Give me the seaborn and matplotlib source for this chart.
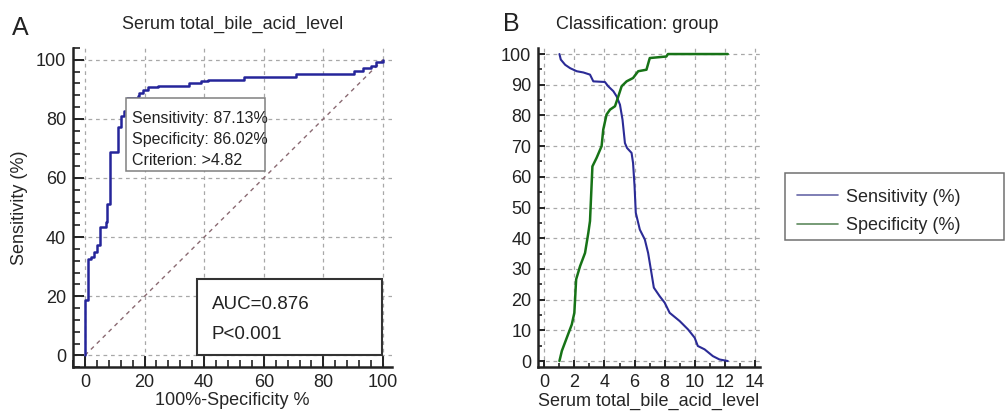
import numpy as np
import pandas as pd
import matplotlib.pyplot as plt
import seaborn as sns
from matplotlib.lines import Line2D
from matplotlib.patches import Rectangle
from matplotlib.ticker import MultipleLocator

# ROC curve (panel A), step vertices: 100%-specificity vs sensitivity
roc_fpr = [0, 0, 0.9, 2.0, 3.1, 3.9, 5.1, 7.0, 7.4, 8.5, 11.0, 11.2, 12.1, 13.0, 14.0,
           17.7, 18.2, 19.4, 21.0, 24.4, 35.0, 38.9, 41.2, 53.5, 70.8, 90.4, 93.2,
           96.0, 97.7, 100]
roc_tpr = [0, 18.6, 32.7, 33.2, 34.9, 37.2, 43.4, 45.0, 51.2, 68.7, 69.8, 77.1, 81.1,
           82.8, 87.1, 87.8, 88.6, 89.8, 90.7, 91.2, 92.0, 92.7, 93.2, 94.3, 95.2,
           96.3, 97.1, 98.0, 99.1, 100]

# Panel B: sensitivity / specificity vs criterion value
sens_x = [1.01, 1.1, 1.39, 1.72, 2.16, 2.6, 3.04, 3.26, 4.03, 4.25, 4.59, 4.81, 5.03,
          5.2, 5.36, 5.5, 5.8, 5.9, 6.0, 6.08, 6.35, 6.68, 6.9, 7.12, 7.28, 7.67, 8.0,
          8.33, 9.0, 9.55, 9.99, 10.2, 10.65, 11.2, 11.64, 12.19]
sens_y = [100, 98.2, 96.5, 95.4, 94.4, 94.0, 93.3, 91.1, 90.9, 89.5, 87.9, 86.2, 83.5,
          78.6, 71.0, 69.4, 67.8, 64.5, 56.9, 48.3, 42.8, 39.6, 35.2, 28.7, 23.9, 21.1,
          19.0, 15.7, 13.0, 10.3, 7.6, 4.9, 3.8, 1.6, 0.5, 0]
spec_x = [1.01, 1.17, 1.5, 1.83, 2.0, 2.12, 2.38, 2.71, 2.93, 3.04, 3.2, 3.48, 3.81,
          3.92, 4.14, 4.37, 4.7, 4.92, 5.14, 5.47, 5.9, 6.24, 6.79, 7.01, 8.11, 8.22,
          12.19]
spec_y = [0, 3.3, 7.6, 11.9, 15.7, 26.6, 30.9, 35.2, 41.8, 45.6, 63.4, 66.2, 70.0,
          75.4, 80.3, 81.9, 83.0, 86.2, 89.5, 91.1, 92.2, 94.4, 94.9, 98.7, 99.2, 100,
          100]

sns.set_style("white")
plt.rcParams['font.family'] = ['Liberation Sans', 'DejaVu Sans']

fig = plt.figure(figsize=(10.06, 4.13), dpi=100)
axA = fig.add_axes([0.0726, 0.111, 0.317, 0.773])
axB = fig.add_axes([0.535, 0.111, 0.220, 0.773])

grid_kw = dict(color="#a8a8a8", linestyle=(0, (3, 3)), linewidth=0.9)


def style_axes(ax, major_len, minor_len):
    for side in ["top", "right"]:
        ax.spines[side].set_visible(False)
    for side in ["left", "bottom"]:
        ax.spines[side].set_linewidth(1.8)
        ax.spines[side].set_color("#222222")
    ax.tick_params(which="both", bottom=True, left=True, top=False, right=False)
    ax.tick_params(which="major", direction="in", length=major_len, width=1.4,
                   labelsize=13, colors="#222222", pad=5)
    ax.tick_params(which="minor", direction="in", length=minor_len, width=1.2,
                   colors="#222222")
    ax.grid(True, which="major", **grid_kw)
    ax.grid(False, which="minor")
    ax.set_axisbelow(True)


# ---- Panel A ----
roc = pd.DataFrame({"fpr": roc_fpr, "tpr": roc_tpr})
axA.plot([0, 100], [0, 100], color="#8a6a72", linestyle=(0, (3, 3)), linewidth=1)
sns.lineplot(data=roc, x="fpr", y="tpr", ax=axA, sort=False, estimator=None,
             drawstyle="steps-post", color="#25259a", linewidth=1.8)
axA.set_xlim(-4, 103)
axA.set_ylim(-4, 104)
axA.xaxis.set_major_locator(MultipleLocator(20))
axA.yaxis.set_major_locator(MultipleLocator(20))
axA.xaxis.set_minor_locator(MultipleLocator(4))
axA.yaxis.set_minor_locator(MultipleLocator(4))
style_axes(axA, 8, 5)
axA.set_xlabel("100%-Specificity %", fontsize=13, labelpad=1)
axA.set_ylabel("Sensitivity (%)", fontsize=13, labelpad=6)
axA.set_title("Serum total_bile_acid_level", fontsize=13, pad=14)

axA.text(15.8, 82.6, "Sensitivity: 87.13%\nSpecificity: 86.02%\nCriterion: >4.82",
         fontsize=11.5, va="top", ha="left", linespacing=1.5, color="#222222",
         zorder=5)
axA.add_patch(Rectangle((13.9, 62.2), 46.5, 24.9, fill=True, facecolor="white",
                        edgecolor="#808080", linewidth=1.1, zorder=4))
axA.add_patch(Rectangle((37.6, 0), 62.1, 25.7, fill=True, facecolor="white",
                        edgecolor="#333333", linewidth=1.5, zorder=4))
axA.text(42.6, 17.2, "AUC=0.876", fontsize=13.5, va="center", ha="left",
         color="#222222", zorder=5)
axA.text(42.6, 7.0, "P<0.001", fontsize=13.5, va="center", ha="left",
         color="#222222", zorder=5)

# ---- Panel B ----
sens = pd.DataFrame({"x": sens_x, "y": sens_y})
spec = pd.DataFrame({"x": spec_x, "y": spec_y})
sns.lineplot(data=sens, x="x", y="y", ax=axB, sort=False, estimator=None,
             color="#2b2b96", linewidth=1.5)
sns.lineplot(data=spec, x="x", y="y", ax=axB, sort=False, estimator=None,
             color="#177317", linewidth=1.8)
axB.set_xlim(-0.4, 14.3)
axB.set_ylim(-2, 102)
axB.xaxis.set_major_locator(MultipleLocator(2))
axB.xaxis.set_minor_locator(MultipleLocator(1))
axB.yaxis.set_major_locator(MultipleLocator(10))
axB.yaxis.set_minor_locator(MultipleLocator(5))
style_axes(axB, 5, 3)
axB.set_xlabel("Serum total_bile_acid_level", fontsize=13, labelpad=1)
axB.set_ylabel("")
fig.text(0.633, 0.93, "Classification: group", fontsize=13, ha="center",
         color="#222222")

# panel letters
fig.text(0.012, 0.915, "A", fontsize=18, color="#222222")
fig.text(0.5, 0.925, "B", fontsize=18, color="#222222")

# legend box drawn as a figure patch, entries without frame
fig.patches.append(Rectangle((0.780, 0.419), 0.218, 0.162, transform=fig.transFigure,
                             facecolor="white", edgecolor="#707070", linewidth=1.1))
handles = [Line2D([], [], color="#6868a8", linewidth=1.2),
           Line2D([], [], color="#5f8a5f", linewidth=1.2)]
fig.legend(handles, ["Sensitivity (%)", "Specificity (%)"], loc="upper left",
           bbox_to_anchor=(0.792, 0.543), fontsize=13, frameon=False,
           handlelength=2.3, handletextpad=0.4, borderpad=0,
           labelspacing=0.65, borderaxespad=0)

fig.savefig("out.png", dpi=100)
